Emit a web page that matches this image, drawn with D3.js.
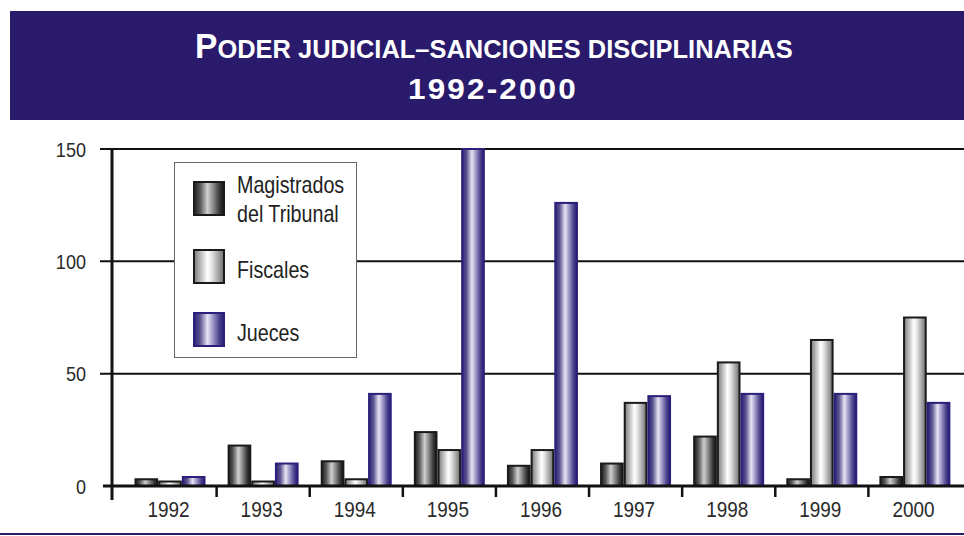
<!DOCTYPE html>
<html>
<head>
<meta charset="utf-8">
<script src="https://cdn.jsdelivr.net/npm/d3@7"></script>
<style>
  html, body { margin: 0; padding: 0; background: #fff; }
  svg { display: block; }
  text { font-family: "Liberation Sans", Arial, sans-serif; }
</style>
</head>
<body>
<svg id="chart" width="964" height="536"></svg>
<script>
const years = ["1992","1993","1994","1995","1996","1997","1998","1999","2000"];
const seriesNames = ["Magistrados del Tribunal", "Fiscales", "Jueces"];
const magistrados = [3, 18, 11, 24, 9, 10, 22, 3, 4];
const fiscales    = [2, 2, 3, 16, 16, 37, 55, 65, 75];
const jueces      = [4, 10, 41, 150, 126, 40, 41, 41, 37];
const yTicks = [0, 50, 100, 150];
const titleLine1Big = "P";
const titleLine1Small = "ODER JUDICIAL–SANCIONES DISCIPLINARIAS";
const titleLine2 = "1992-2000";

const svg = d3.select("#chart");
const defs = svg.append("defs");

const gradSpecs = [
  { id: "gM", stops: [["0%", "#1e1e1e"], ["20%", "#555"], ["45%", "#cfcfcf"], ["60%", "#9a9a9a"], ["85%", "#3a3a3a"], ["100%", "#141414"]] },
  { id: "gF", stops: [["0%", "#7a7a7a"], ["20%", "#b5b5b5"], ["45%", "#ffffff"], ["60%", "#e2e2e2"], ["85%", "#9a9a9a"], ["100%", "#6e6e6e"]] },
  { id: "gJ", stops: [["0%", "#2e2476"], ["20%", "#5a528f"], ["45%", "#e6e4f3"], ["60%", "#aaa5cf"], ["85%", "#4a3f8c"], ["100%", "#2a1f70"]] }
];
gradSpecs.forEach(g => {
  const lg = defs.append("linearGradient").attr("id", g.id)
    .attr("x1", "0%").attr("x2", "100%").attr("y1", "0%").attr("y2", "0%");
  g.stops.forEach(s => lg.append("stop").attr("offset", s[0]).attr("stop-color", s[1]));
});
const fills = ["url(#gM)", "url(#gF)", "url(#gJ)"];
const strokes = ["#1a1a1a", "#1a1a1a", "#2a1f7a"];

// narrow: condense text horizontally (Arial Narrow look)
function narrow(sel, f) {
  sel.each(function () {
    const w = this.getComputedTextLength();
    d3.select(this).attr("textLength", w * (f || 0.82)).attr("lengthAdjust", "spacingAndGlyphs");
  });
}

// Title banner
svg.append("rect").attr("x", 10).attr("y", 11).attr("width", 954).attr("height", 109).attr("fill", "#2a1a6c");

function fitText(sel, targetW, cx) {
  const bb = sel.node().getBBox();
  const s = targetW / bb.width;
  sel.attr("transform", `translate(${cx},0) scale(${s},1) translate(${-(bb.x + bb.width / 2)},0)`);
}
const t1 = svg.append("text").attr("y", 58).attr("fill", "#fff").attr("font-weight", "bold");
t1.append("tspan").attr("font-size", 35).text(titleLine1Big);
t1.append("tspan").attr("font-size", 26.5).text(titleLine1Small);
fitText(t1, 598, 494);

const t2 = svg.append("text").attr("y", 99).attr("fill", "#fff").attr("font-weight", "bold")
  .attr("font-size", 29.5).attr("letter-spacing", 2).text(titleLine2);
fitText(t2, 170, 493);

// Scales
const x = d3.scaleBand().domain(years).range([124, 962]).padding(0);
const x1 = d3.scaleBand().domain([0, 1, 2]).range([10.5, 81.5]).padding(0);
const y = d3.scaleLinear().domain([0, 150]).range([486, 149]);

// Gridlines
svg.append("g").selectAll("line").data(yTicks.filter(d => d > 0)).join("line")
  .attr("x1", 100).attr("x2", 964)
  .attr("y1", d => y(d)).attr("y2", d => y(d))
  .attr("stroke", "#111").attr("stroke-width", 2);

// Y tick labels
svg.append("g").selectAll("text").data(yTicks).join("text")
  .attr("x", 86).attr("y", d => y(d)).attr("dy", "0.36em")
  .attr("text-anchor", "end").attr("font-size", 21).attr("fill", "#2a2a2a")
  .text(d => d)
  .call(narrow, 0.86);

// Bars
const data = years.map((yr, i) => ({ yr, vals: [magistrados[i], fiscales[i], jueces[i]] }));
const groups = svg.append("g").selectAll("g").data(data).join("g")
  .attr("transform", d => `translate(${x(d.yr)},0)`);
groups.selectAll("rect").data(d => d.vals.map((v, k) => ({ v, k }))).join("rect")
  .attr("x", d => x1(d.k) + 1)
  .attr("width", x1.bandwidth() - 2)
  .attr("y", d => y(d.v))
  .attr("height", d => y(0) - y(d.v))
  .attr("fill", d => fills[d.k])
  .attr("stroke", d => strokes[d.k])
  .attr("stroke-width", 2);

// Baseline
svg.append("line").attr("x1", 103).attr("x2", 964).attr("y1", y(0)).attr("y2", y(0))
  .attr("stroke", "#111").attr("stroke-width", 3);
// Y axis line
svg.append("line").attr("x1", 112).attr("x2", 112).attr("y1", y(150)).attr("y2", 500)
  .attr("stroke", "#111").attr("stroke-width", 3);
// Category ticks
svg.append("g").selectAll("line").data(years.slice(1)).join("line")
  .attr("x1", d => x(d) - 0.5).attr("x2", d => x(d) - 0.5)
  .attr("y1", y(0)).attr("y2", 497)
  .attr("stroke", "#111").attr("stroke-width", 2.5);
// X labels
svg.append("g").selectAll("text").data(years).join("text")
  .attr("x", d => x(d) + x.bandwidth() / 2 - 2).attr("y", 517)
  .attr("text-anchor", "middle").attr("font-size", 22).attr("fill", "#2a2a2a")
  .text(d => d)
  .call(narrow, 0.86);

// Legend
const lg = svg.append("g");
lg.append("rect").attr("x", 174.5).attr("y", 162.5).attr("width", 182).attr("height", 195)
  .attr("fill", "#fff").attr("stroke", "#666").attr("stroke-width", 1);
const legendRows = [
  { k: 0, sy: 182, lines: ["Magistrados", "del Tribunal"], ty: [193, 222] },
  { k: 1, sy: 250, lines: ["Fiscales"], ty: [278] },
  { k: 2, sy: 313, lines: ["Jueces"], ty: [341] }
];
legendRows.forEach(r => {
  lg.append("rect").attr("x", 194).attr("y", r.sy).attr("width", 30).attr("height", 33)
    .attr("fill", fills[r.k]).attr("stroke", strokes[r.k]).attr("stroke-width", 2);
  r.lines.forEach((ln, j) => {
    lg.append("text").attr("x", 237).attr("y", r.ty[j]).attr("font-size", 24)
      .attr("fill", "#222").text(ln).call(narrow, 0.82);
  });
});

// Bottom rule
svg.append("line").attr("x1", 0).attr("x2", 964).attr("y1", 534).attr("y2", 534)
  .attr("stroke", "#2a1a6c").attr("stroke-width", 2);
</script>
</body>
</html>
